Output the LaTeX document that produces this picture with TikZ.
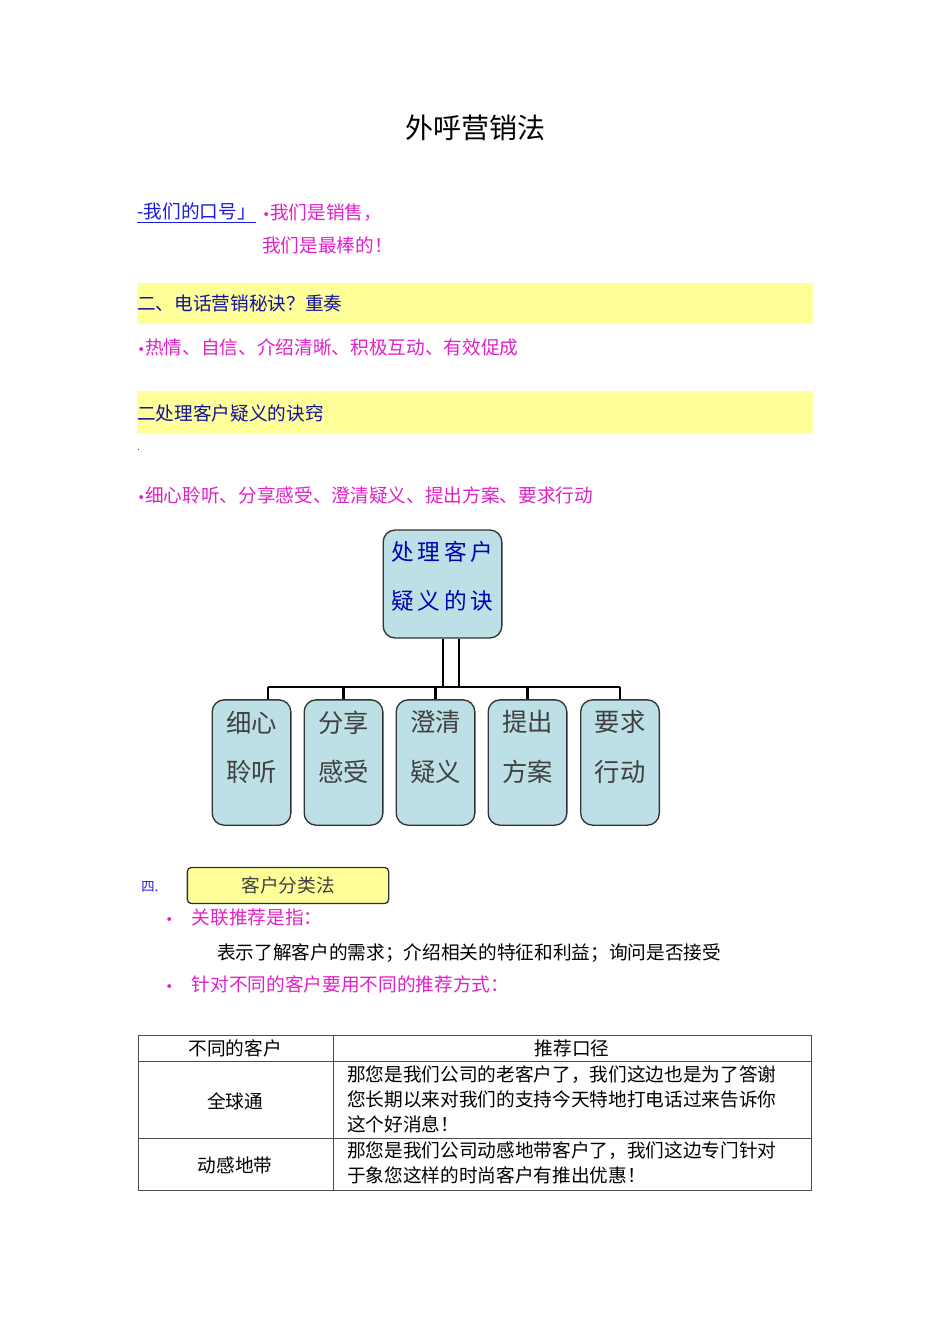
\documentclass[tikz,border=0pt]{standalone}
\usepackage{fontspec}
\newfontfamily\cjk{Noto Sans CJK SC}
\newfontfamily\dvs{DejaVu Sans}
\newcommand{\bul}{{\dvs\fontsize{10}{10}\selectfont •}}
\begin{document}
\begin{tikzpicture}[x=0.75pt,y=-0.75pt,
  every node/.style={font=\cjk\fontsize{14}{17}\selectfont, inner sep=0pt},
  mag/.style={text=magentatext, anchor=west},
  leaf/.style={draw=black!80, line width=1pt, rounded corners=9pt, fill=boxfill, minimum width=59pt, minimum height=94pt},
  lt/.style={align=center, font=\cjk\fontsize{19}{37}\selectfont, text=black!75},
  bar/.style={line width=2.2pt}]
\definecolor{magentatext}{HTML}{E020C8}
\definecolor{boxfill}{HTML}{BDE0E6}
\definecolor{band}{HTML}{FFFF99}
\definecolor{linkblue}{HTML}{1A1AE0}
\useasboundingbox (0,0) rectangle (950,1344);
\node (title) at (475,128) {\fontsize{21}{24}\selectfont 外呼营销法};
\node[anchor=west,text=linkblue] (slogan) at (137,213) {\underline{-我们的口号」}};
\node[mag] (s1) at (262,213) {\bul 我们是销售，};
\node[mag] (s2) at (262,245) {我们是最棒的！};
\fill[band] (137,283) rectangle (813,324);
\node[anchor=west,text=linkblue!70!black] (h2) at (137,303) {二、电话营销秘诀？重奏};
\node[mag] (t2) at (137,347) {\bul 热情、自信、介绍清晰、积极互动、有效促成};
\fill[band] (137,391) rectangle (813,434);
\node[anchor=west,text=linkblue!70!black] (h3) at (137,413) {二处理客户疑义的诀窍};
\node[anchor=west] (dot) at (137,450) {\fontsize{6}{6}\selectfont .};
\node[mag] (t3) at (137,495) {\bul 细心聆听、分享感受、澄清疑义、提出方案、要求行动};
% tree
\node[leaf, minimum width=89pt, minimum height=81pt] (root) at (442.5,584) {};
\node[lt, text=blue!70!black, font=\cjk\fontsize{17}{37}\selectfont] (roott) at (442.5,576) {处\,理\,客\,户\\疑\,义\,的\,诀};
\node[leaf] (b1) at (251.5,762.5) {};
\node[leaf] (b2) at (343.5,762.5) {};
\node[leaf] (b3) at (435.5,762.5) {};
\node[leaf] (b4) at (527.5,762.5) {};
\node[leaf] (b5) at (620,762.5) {};
\node[lt] (b1t) at (251.5,747) {细心\\聆听};
\node[lt] (b2t) at (343.5,747) {分享\\感受};
\node[lt] (b3t) at (435.5,747) {澄清\\疑义};
\node[lt] (b4t) at (527.5,747) {提出\\方案};
\node[lt] (b5t) at (620,747) {要求\\行动};
\coordinate (bl) at (268,687);
\coordinate (br) at (620,687);
\coordinate (v1) at (443,687);
\coordinate (v2) at (459,687);
\draw[bar] (bl) -- (br);
\draw[bar] (v1) -- (v1|-root.south);
\draw[bar] (v2) -- (v2|-root.south);
\draw[bar] (bl) -- (bl|-b1.north);
\draw[bar] (b2.north|-bl) -- (b2.north);
\draw[bar] (b3.north|-bl) -- (b3.north);
\draw[bar] (b4.north|-bl) -- (b4.north);
\draw[bar] (br) -- (b5.north);
% section 4
\node[anchor=west,text=linkblue,font=\cjk\fontsize{10}{12}\selectfont] (four) at (141,887) {四.};
\node[draw=black!80, line width=1pt, fill=band, rounded corners=3pt, minimum width=151pt, minimum height=27pt, text=black!75] (cls) at (288,885.5) {客户分类法};
\node[mag] (bul1) at (165,917) {\bul\hspace{14pt}关联推荐是指：};
\node[anchor=west] (desc) at (217,953) {表示了解客户的需求；介绍相关的特征和利益；询问是否接受};
\node[mag] (bul2) at (165,984) {\bul\hspace{14pt}针对不同的客户要用不同的推荐方式：};
% table
\draw[black!70, line width=0.6pt] (138,1035) rectangle (811,1190);
\draw[black!70, line width=0.6pt] (333,1035) -- (333,1190);
\draw[black!70, line width=0.6pt] (138,1061) -- (811,1061);
\draw[black!70, line width=0.6pt] (138,1138) -- (811,1138);
\node (c11) at (235,1048) {不同的客户};
\node (c12) at (572,1048) {推荐口径};
\node (c21) at (235,1101) {全球通};
\node[anchor=north west, align=left, font=\cjk\fontsize{14}{18.8}\selectfont] (c22) at (347,1065) {那您是我们公司的老客户了，我们这边也是为了答谢\\您长期以来对我们的支持今天特地打电话过来告诉你\\这个好消息！};
\node (c31) at (235,1165) {动感地带};
\node[anchor=north west, align=left, font=\cjk\fontsize{14}{18.8}\selectfont] (c32) at (347,1141) {那您是我们公司动感地带客户了，我们这边专门针对\\于象您这样的时尚客户有推出优惠！};
\end{tikzpicture}
\end{document}
